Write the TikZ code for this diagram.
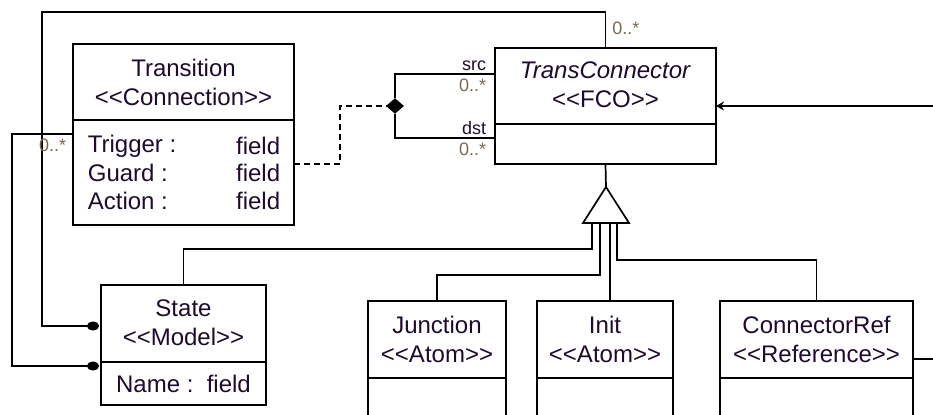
\documentclass[tikz,border=0pt]{standalone}
\usepackage{fontspec}
\setmainfont{Liberation Sans}[Ligatures=TeXOff]
\usetikzlibrary{arrows.meta,shapes.geometric}

\definecolor{umltext}{RGB}{30,10,45}
\definecolor{multtext}{RGB}{120,105,80}

\begin{document}
\begin{tikzpicture}[
	x=0.5pt, y=-0.5pt,
	line width=0.85pt,
	classbox/.style={rectangle, draw, anchor=north west, inner sep=0pt, outer sep=0pt},
	classname/.style={align=center, text=umltext, font=\fontsize{12}{14.5}\selectfont},
	attr/.style={text=umltext, font=\fontsize{12}{14.5}\selectfont, inner sep=0pt},
	role/.style={text=umltext, font=\fontsize{9}{10}\selectfont, inner sep=1pt},
	mult/.style={text=multtext, font=\fontsize{9}{10}\selectfont, inner sep=1pt},
	dotline/.style={draw, -{Circle[length=6pt, width=4.5pt, sep=1pt]}},
	line/.style={draw, -{Stealth[length=4pt, width=4.5pt]}},
	]
	\useasboundingbox (0,0) rectangle (933,415);
	\clip (0,0) rectangle (933,415);

	% Klassen
	\node[classbox, minimum width=110.5pt, minimum height=90.5pt] (trans) at (73,44) {};
	\node[classname] (transname) at ([yshift=-19pt]trans.north) {Transition\\<<Connection>>};
	\draw ([yshift=-38pt]trans.north west) -- ([yshift=-38pt]trans.north east);
	\node[attr, anchor=west] (trig) at (87,146) {Trigger :};
	\node[attr, anchor=east] (trigf) at (281,146) {field};
	\node[attr, anchor=west] (guard) at (87,173) {Guard :};
	\node[attr, anchor=east] (guardf) at (281,173) {field};
	\node[attr, anchor=west] (act) at (87,201) {Action :};
	\node[attr, anchor=east] (actf) at (281,201) {field};

	\node[classbox, minimum width=110.5pt, minimum height=58pt] (conn) at (495,48) {};
	\node[classname] (connname) at ([yshift=-18.5pt]conn.north) {\textit{TransConnector}\\<<FCO>>};
	\draw ([yshift=-38pt]conn.north west) -- ([yshift=-38pt]conn.north east);

	\node[classbox, minimum width=82.5pt, minimum height=60pt] (state) at (101,285) {};
	\node[classname] (statename) at ([yshift=-19pt]state.north) {State\\<<Model>>};
	\draw ([yshift=-38.5pt]state.north west) -- ([yshift=-38.5pt]state.north east);
	\node[attr] (stateattr) at ([yshift=-49.5pt]state.north) {Name :\ \ field};

	\node[classbox, minimum width=69pt, minimum height=80pt] (junction) at (368,301) {};
	\node[classname] (junctionname) at ([yshift=-19pt]junction.north) {Junction\\<<Atom>>};
	\draw ([yshift=-38.5pt]junction.north west) -- ([yshift=-38.5pt]junction.north east);

	\node[classbox, minimum width=68pt, minimum height=80pt] (init) at (537,301) {};
	\node[classname] (initname) at ([yshift=-19pt]init.north) {Init\\<<Atom>>};
	\draw ([yshift=-38.5pt]init.north west) -- ([yshift=-38.5pt]init.north east);

	\node[classbox, minimum width=96.5pt, minimum height=80pt] (cref) at (720,301) {};
	\node[classname] (crefname) at ([yshift=-19pt]cref.north) {ConnectorRef\\<<Reference>>};
	\draw ([yshift=-38.5pt]cref.north west) -- ([yshift=-38.5pt]cref.north east);

	% Assoziationen
	\node[diamond, fill, draw, inner sep=0pt, minimum width=8pt, minimum height=7pt] (assoc) at (395,106) {};
	\draw (assoc) |- ([yshift=-13pt]conn.north west);
	\draw (assoc) |- ([yshift=-45pt]conn.north west);
	\draw[dash pattern=on 3pt off 2pt] ([yshift=-60pt]trans.north east) -| (340,106) -- (assoc);
	\node[role, anchor=south east] (src) at ([xshift=-3pt,yshift=-13pt]conn.north west) {src};
	\node[mult, anchor=north east] (srcm) at ([xshift=-3pt,yshift=-14pt]conn.north west) {0..*};
	\node[role, anchor=south east] (dst) at ([xshift=-3pt,yshift=-45pt]conn.north west) {dst};
	\node[mult, anchor=north east] (dstm) at ([xshift=-3pt,yshift=-46pt]conn.north west) {0..*};

	\draw[dotline] (conn.north) |- (42,12) |- ([yshift=-20.5pt]state.north west);
	\node[mult, anchor=west] (topm) at ([xshift=2pt,yshift=10pt]conn.north) {0..*};
	\draw[dotline] ([yshift=-45pt]trans.north west) -| (12,366) -- ([yshift=-40.5pt]state.north west);
	\node[mult, anchor=north east] (leftm) at ([xshift=-2pt,yshift=-46pt]trans.north west) {0..*};

	\coordinate (extin) at (933,106);
	\path[line] (extin) -- (conn.east);
	\coordinate (crefout) at (933,359);
	\draw ([yshift=-29pt]cref.north east) -- (crefout);

	% Vererbung
	\coordinate (genapex) at (606,187);
	\draw (conn.south) -- (genapex);
	\draw[fill=white] (genapex) -- (629,223) -- (583,223) -- cycle;
	\coordinate (gstate) at (592,223);
	\coordinate (gjunc) at (600,223);
	\coordinate (ginit) at (610,223);
	\coordinate (gcref) at (617,223);
	\draw (gstate) -- ++(0,26) -| (state.north);
	\draw (gjunc) -- ++(0,52) -| (junction.north);
	\draw (ginit) -- (ginit |- init.north);
	\draw (gcref) -- ++(0,37) -| (cref.north);
\end{tikzpicture}
\end{document}
